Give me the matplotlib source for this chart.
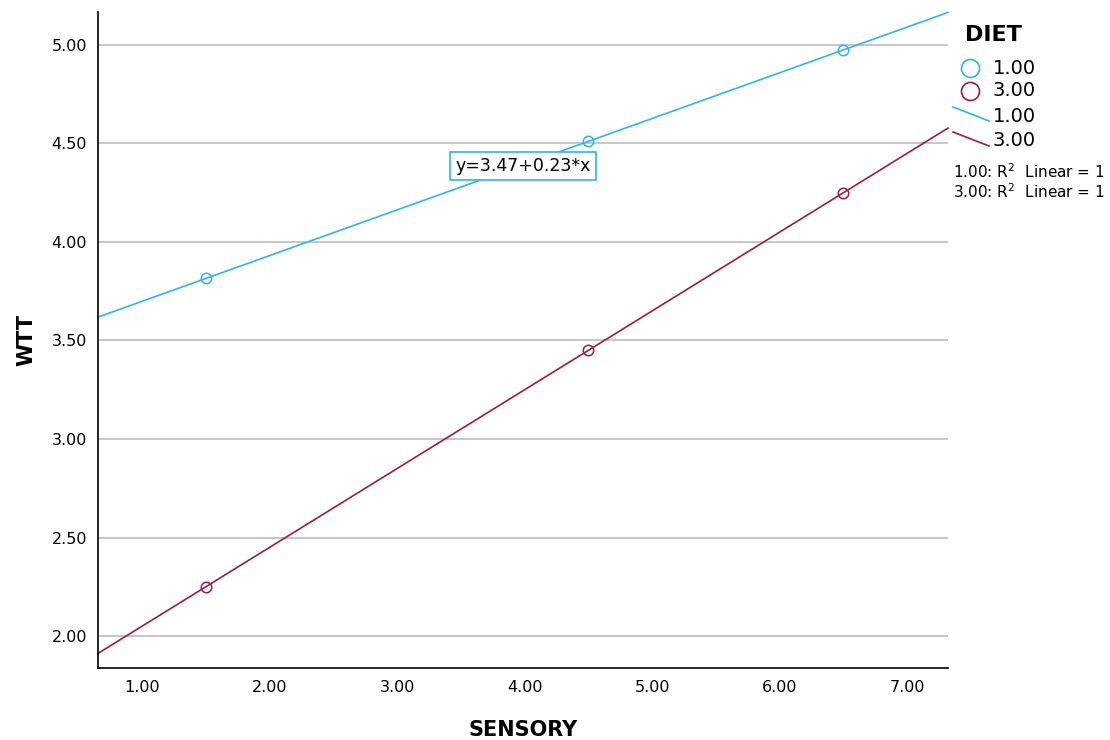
import numpy as np
import matplotlib.pyplot as plt
from matplotlib.lines import Line2D

sensory = [1.5, 4.5, 6.5]
wtt_diet1 = [3.815, 4.51, 4.975]
wtt_diet3 = [2.25, 3.45, 4.25]
groups = ["1.00", "3.00"]
xticks = [1, 2, 3, 4, 5, 6, 7]
yticks = [2.0, 2.5, 3.0, 3.5, 4.0, 4.5, 5.0]

blue = "#33B2F2"
maroon = "#9B1B4D"

plt.rcParams["font.family"] = ["DejaVu Sans"]
fig = plt.figure(figsize=(11.1, 7.4), dpi=100)
ax = fig.add_axes([98/1110, 72/740, 850/1110, 656/740])

xmin, xmax = 0.655, 7.32
ax.set_xlim(xmin, xmax)
ax.set_ylim(1.838, 5.167)

for y in yticks:
    ax.axhline(y, color="#BDBDBD", lw=1.2, zorder=0)

xx = np.array([xmin, xmax])
for ys, c in [(wtt_diet1, blue), (wtt_diet3, maroon)]:
    b, a = np.polyfit(sensory, ys, 1)
    ax.plot(xx, a + b*xx, color=c, lw=1.2, clip_on=False)
    ax.plot(sensory, ys, "o", ms=7.5, mfc="none", mec=c, mew=1.1)

ax.text(3.99, 4.385, "y=3.47+0.23*x", fontsize=12.5, ha="center", va="center",
        bbox=dict(boxstyle="square,pad=0.3", fc="white", ec=blue, lw=1.2))

ax.set_xticks(xticks)
ax.set_xticklabels(["%.2f" % v for v in xticks])
ax.set_yticks(yticks)
ax.set_yticklabels(["%.2f" % v for v in yticks])
ax.tick_params(length=0, labelsize=11.5)
ax.tick_params(axis="x", pad=9)
ax.tick_params(axis="y", pad=8)
for s in ["top", "right"]:
    ax.spines[s].set_visible(False)
ax.spines["left"].set_linewidth(1.2)
ax.spines["bottom"].set_linewidth(1.2)
ax.set_xlabel("SENSORY", fontsize=15, fontweight="bold", labelpad=18)
ax.set_ylabel("WTT", fontsize=15, fontweight="bold", labelpad=11)

# legend drawn by hand, SPSS style
def fx(px):
    return px/1110
def fy(py):
    return 1 - py/740

fig.text(fx(965), fy(35), "DIET", fontsize=16, fontweight="bold", va="center")
for i, (g, c) in enumerate(zip(groups, [blue, maroon])):
    fig.add_artist(Line2D([fx(970)], [fy(68 + 23*i)], marker="o", ms=13,
                          mfc="none", mec=c, mew=1.2, transform=fig.transFigure))
    fig.text(fx(993), fy(68 + 23*i), g, fontsize=14, va="center")
    y0 = 107 + 25*i
    fig.add_artist(Line2D([fx(953), fx(989)], [fy(y0), fy(y0 + 14)], color=c,
                          lw=1.2, transform=fig.transFigure))
    fig.text(fx(993), fy(116 + 24*i), g, fontsize=14, va="center")
    fig.text(fx(1105), fy(172 + 20*i), g + ": R$^2$  Linear = 1", fontsize=11,
             va="center", ha="right")

fig.savefig("out.png", dpi=100)
